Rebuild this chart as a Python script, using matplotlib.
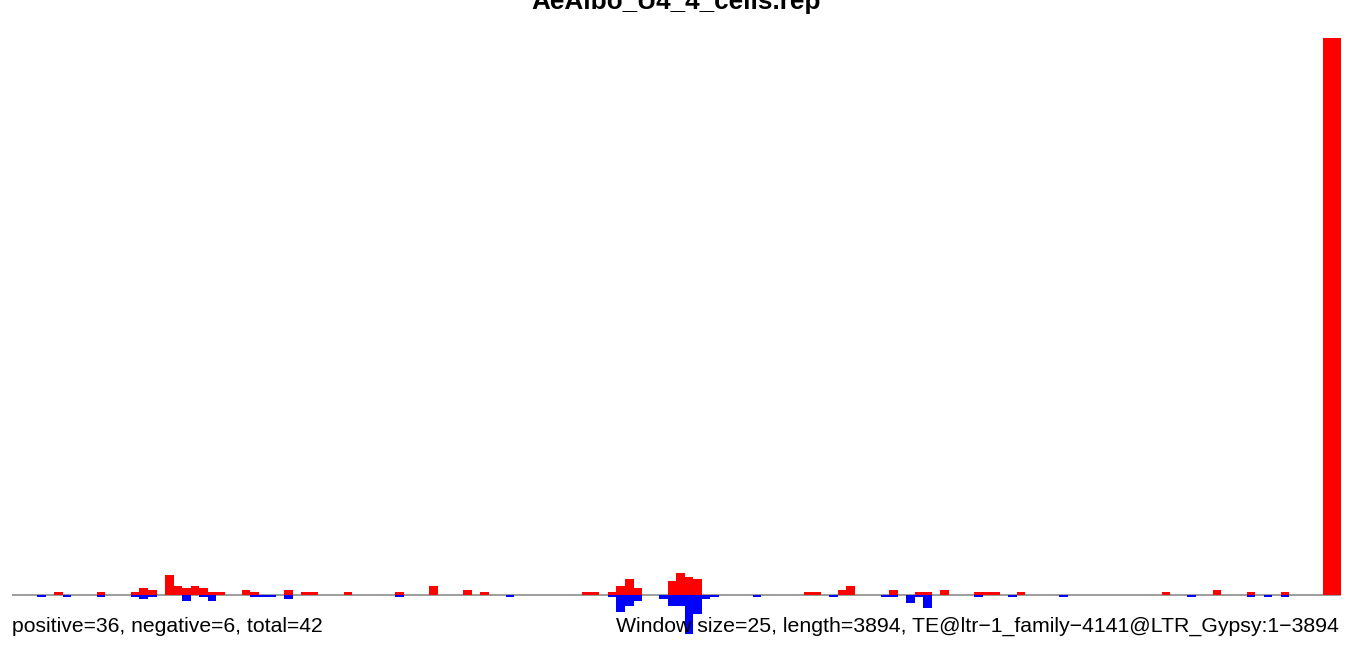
import matplotlib
matplotlib.use('Agg')
import matplotlib.pyplot as plt
import numpy as np

plt.rcParams['font.family'] = ['Liberation Sans', 'DejaVu Sans']

title = 'AeAlbo_U4_4_cells.rep'
left_note = 'positive=36, negative=6, total=42'
right_note = 'Window size=25, length=3894, TE@ltr\u22121_family\u22124141@LTR_Gypsy:1\u22123894'

n_bins = 156  # 3894 / 25 windows

# sense (red, up) signal per window
pos_bins = [5, 10, 14, 15, 16, 18, 19, 20, 21, 22, 23, 24, 27, 28, 32, 34, 35, 39,
            45, 49, 53, 55, 67, 68, 70, 71, 72, 73, 77, 78, 79, 80, 93, 94, 97, 98,
            103, 106, 107, 109, 113, 114, 115, 118, 135, 141, 145, 149, 154, 155]
pos_vals = [1, 1, 1, 3, 2, 9, 4, 3, 4, 3, 1, 1, 2, 1, 2, 1, 1, 1,
            1, 4, 2, 1, 1, 1, 1, 4, 7, 3, 6, 10, 8, 7, 1, 1, 2, 4,
            2, 1, 1, 2, 1, 1, 1, 1, 1, 2, 1, 1, 253, 253]

# antisense (blue, down) signal per window
neg_bins = [3, 6, 10, 14, 15, 16, 20, 22, 23, 28, 29, 30, 32, 45, 58, 70, 71, 72,
            73, 76, 77, 78, 79, 80, 81, 82, 87, 96, 102, 103, 105, 106, 107, 113,
            117, 123, 138, 145, 147, 149]
neg_vals = [1, 1, 1, 1, 2, 1, 3, 1, 3, 1, 1, 1, 2, 1, 1, 1, 8, 5,
            3, 2, 5, 5, 18, 9, 2, 1, 1, 1, 1, 1, 4, 1, 6, 1,
            1, 1, 1, 1, 1, 1]

pos = np.zeros(n_bins)
neg = np.zeros(n_bins)
pos[pos_bins] = pos_vals
neg[neg_bins] = neg_vals

fig = plt.figure(figsize=(13.52, 6.46), dpi=100)
ax = fig.add_axes([11.7 / 1352, 11 / 646, 1328.8 / 1352, 598 / 646])

x = np.arange(n_bins)
ax.axhline(0, color='#8c8c8c', linewidth=1.2, zorder=1)
ax.bar(x, pos, width=1.0, align='edge', color='#ff0000', linewidth=0, zorder=2)
ax.bar(x, -neg, width=1.0, align='edge', color='#0000ff', linewidth=0, zorder=2)

ax.set_xlim(0, n_bins)
ax.set_ylim(-18.4, 253.4)
ax.axis('off')

# title sits partly above the top edge, as in the original
fig.text(0.5, 1 - 9 / 646, title, ha='center', va='baseline',
         fontsize=18.8, fontweight='bold')
fig.text(11.7 / 1352, 1 - 632 / 646, left_note, ha='left', va='baseline', fontsize=15.2)
fig.text(1339 / 1352, 1 - 632 / 646, right_note, ha='right', va='baseline', fontsize=15.3)

fig.savefig('out.png', dpi=100)
